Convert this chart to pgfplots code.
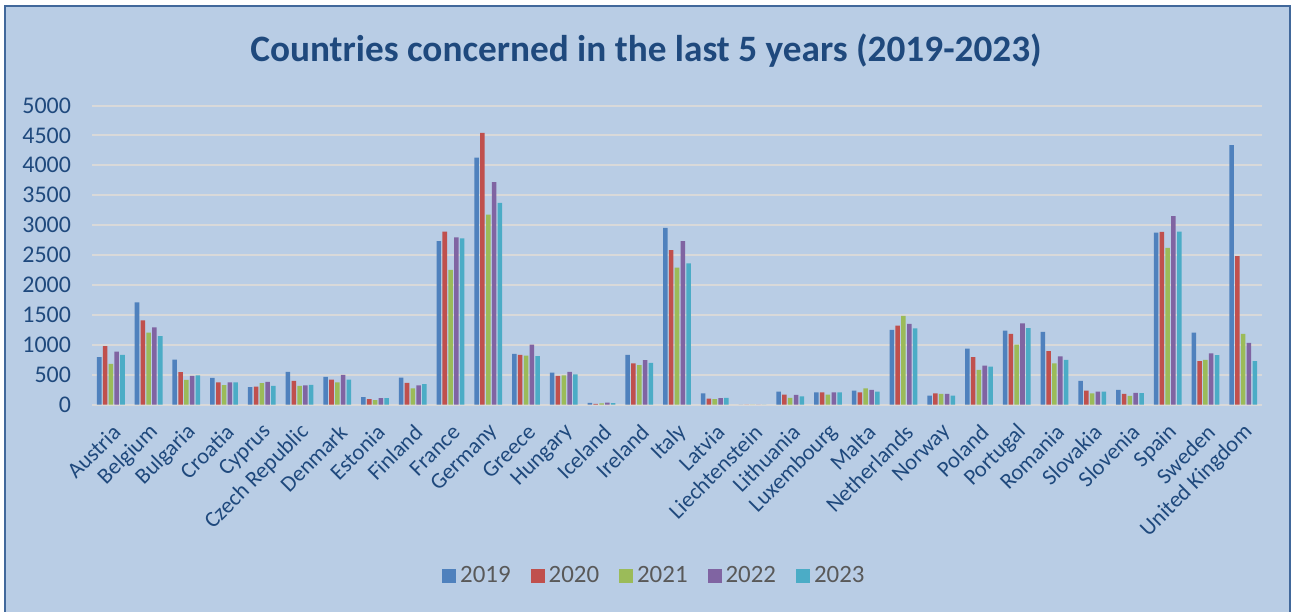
\documentclass[border=0pt]{standalone}
\usepackage{fontspec}
\setmainfont{Carlito}
\usepackage{pgfplots}
\usepackage{pgfplotstable}
\pgfplotsset{compat=1.18}
\definecolor{bg}{RGB}{185,205,229}
\definecolor{framec}{RGB}{65,104,155}
\definecolor{txt}{RGB}{31,73,125}
\definecolor{legtxt}{RGB}{89,89,89}
\definecolor{gridc}{RGB}{217,217,217}
\definecolor{c1}{RGB}{79,129,189}
\definecolor{c2}{RGB}{192,80,77}
\definecolor{c3}{RGB}{155,187,89}
\definecolor{c4}{RGB}{128,100,162}
\definecolor{c5}{RGB}{75,172,198}

\pgfplotstableread{
x a b c d e
0 791 975 680 886 830
1 1706 1405 1204 1288 1143
2 752 541 412 479 485
3 446 368 323 368 368
4 290 301 357 379 312
5 546 396 312 318 329
6 463 418 368 496 418
7 123 89 72 106 106
8 451 362 268 318 340
9 2731 2893 2252 2793 2776
10 4130 4543 3177 3718 3372
11 847 831 819 1003 808
12 535 479 485 546 502
13 28 11 17 33 22
14 831 686 658 741 697
15 2954 2581 2291 2731 2358
16 184 100 89 106 111
17 0 0 0 0 0
18 217 167 111 162 134
19 201 201 167 201 201
20 234 201 268 245 217
21 1249 1321 1483 1349 1271
22 150 184 178 178 150
23 936 791 580 652 635
24 1237 1182 1003 1355 1276
25 1215 892 686 803 747
26 396 234 184 217 217
27 245 178 145 195 190
28 2876 2887 2620 3149 2893
29 1204 725 747 853 825
30 4337 2480 1182 1031 725
}\data

\begin{document}
\begin{tikzpicture}
\useasboundingbox (0,0) rectangle (645.5bp,306bp);
\fill[white] (0,0) rectangle (645.5bp,306bp);
\filldraw[fill=bg, draw=framec, line width=1bp] (2.5bp,-2bp) rectangle (645bp,303bp);
\node[font=\bfseries\fontsize{18.7}{22}\selectfont, text=txt, anchor=base] at (323bp,275.2bp) {Countries concerned in the last 5 years (2019-2023)};
\begin{axis}[
  at={(46bp,103.75bp)}, anchor=south west,
  scale only axis, width=585bp, height=149.5bp,
  xmin=-0.5, xmax=30.5, ymin=0, ymax=5000,
  ytick={0,500,...,5000},
  xtick={0,...,30},
  xticklabels={Austria,Belgium,Bulgaria,Croatia,Cyprus,Czech Republic,Denmark,Estonia,Finland,France,Germany,Greece,Hungary,Iceland,Ireland,Italy,Latvia,Liechtenstein,Lithuania,Luxembourg,Malta,Netherlands,Norway,Poland,Portugal,Romania,Slovakia,Slovenia,Spain,Sweden,United Kingdom},
  axis line style={draw=none},
  major tick length=0pt,
  ymajorgrids, grid style={gridc, line width=1bp},
  ybar, bar width=0.12,
  /pgf/number format/assume math mode=true,
  /pgf/number format/set thousands separator={},
  scaled y ticks=false,
  yticklabel style={font=\fontsize{12}{14}\selectfont, text=txt, xshift=-7bp},
  xticklabel style={font=\fontsize{11.3}{13}\selectfont, text=txt, inner sep=0pt, xshift=3bp, yshift=-12bp, rotate=45, anchor=east},
  legend style={at={(0.4815,-0.574)}, anchor=center, legend columns=5, draw=none, fill=none,
    font=\fontsize{12.5}{15}\selectfont, text=legtxt,
    /tikz/every even column/.append style={column sep=8bp}},
  legend image code/.code={\fill[#1] (0bp,-3.5bp) rectangle (7bp,3.5bp);},
]
\addplot[fill=c1, draw=none, bar shift=-0.308] table[x=x,y=a]{\data};
\addplot[fill=c2, draw=none, bar shift=-0.154] table[x=x,y=b]{\data};
\addplot[fill=c3, draw=none, bar shift=0] table[x=x,y=c]{\data};
\addplot[fill=c4, draw=none, bar shift=0.154] table[x=x,y=d]{\data};
\addplot[fill=c5, draw=none, bar shift=0.308] table[x=x,y=e]{\data};
\legend{2019,2020,2021,2022,2023}
\end{axis}
\end{tikzpicture}
\end{document}
